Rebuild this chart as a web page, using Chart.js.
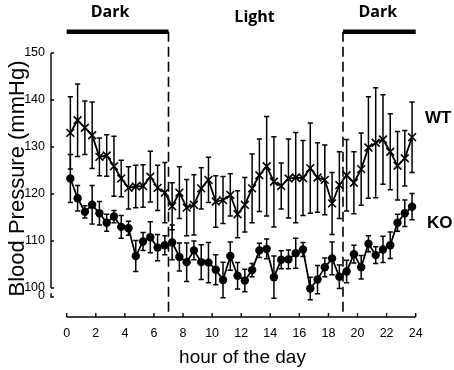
<!DOCTYPE html>
<html><head><meta charset="utf-8">
<script src="https://cdn.jsdelivr.net/npm/chart.js@4/dist/chart.umd.min.js"></script>
<style>html,body{margin:0;padding:0;background:#fff;}</style>
</head><body>
<canvas id="c" width="454" height="370" style="width:454px;height:370px;display:block"></canvas>
<script>
// ---- data ----
const hours = [0.25,0.75,1.25,1.75,2.25,2.75,3.25,3.75,4.25,4.75,5.25,5.75,6.25,6.75,7.25,7.75,
  8.25,8.75,9.25,9.75,10.25,10.75,11.25,11.75,12.25,12.75,13.25,13.75,14.25,14.75,15.25,15.75,
  16.25,16.75,17.25,17.75,18.25,18.75,19.25,19.75,20.25,20.75,21.25,21.75,22.25,22.75,23.25,23.75];
const wtMean = [133.0,135.7,134.1,132.5,127.9,128.2,125.9,123.3,121.3,121.6,121.7,123.7,121.3,120.3,117.4,120.3,
  117.1,117.7,121.2,123.0,118.4,118.7,119.8,115.7,117.7,121.2,124.0,125.9,122.6,121.7,123.3,123.5,
  123.4,125.5,123.5,123.0,118.0,121.9,124.0,122.4,125.3,129.9,130.9,131.6,129.0,126.0,127.6,132.1];
const wtErr = [7.7,7.7,5.7,7.1,4.0,4.4,6.4,3.9,4.5,4.5,4.5,5.4,4.8,6.4,5.0,5.5,
  6.0,6.4,4.4,4.8,5.5,5.0,4.5,5.0,5.8,7.3,7.7,10.6,9.6,4.9,8.4,9.6,
  8.0,9.6,7.4,7.4,6.6,7.1,7.6,6.6,7.7,10.8,11.7,9.5,8.1,7.3,5.9,7.5];
const koMean = [123.3,119.1,116.2,117.7,115.9,113.9,115.2,113.0,112.7,106.8,109.9,110.8,108.6,109.1,109.7,106.6,
  105.5,108.0,105.5,105.4,103.9,101.7,106.8,102.6,101.6,103.8,108.0,108.3,102.3,106.0,106.1,107.4,
  108.2,99.9,101.8,104.4,106.3,102.4,103.5,107.2,104.4,109.4,107.0,108.2,109.1,113.9,115.9,117.3];
const koErr = [5.1,2.7,1.3,4.1,2.5,1.8,1.3,2.4,1.5,3.3,1.9,3.3,2.8,2.0,3.7,3.0,
  4.1,2.0,3.7,4.3,3.2,3.8,3.0,2.8,2.4,1.4,1.5,2.1,4.5,1.9,2.0,3.2,
  1.5,2.4,3.0,2.0,3.5,2.5,2.4,1.9,2.5,1.7,1.8,2.8,2.8,1.8,2.8,2.8];
const xTickValues = [0,2,4,6,8,10,12,14,16,18,20,22,24];
const yTickValues = [100,110,120,130,140,150];
const yBreakValue = 98.5, yBreakLabel = '0';
const darkPeriods = [[0,7],[19,24]];
const phaseNames = ['Dark','Light','Dark'];
const seriesNames = ['WT','KO'];

const INK = '#000';
const errPlugin = {
  id:'errbars',
  beforeDatasetsDraw(chart){
    const {ctx, scales:{x,y}} = chart;
    ctx.save();
    ctx.strokeStyle = INK; ctx.lineWidth = 1.5;
    const sets = [[wtMean,wtErr],[koMean,koErr]];
    sets.forEach(([m,e])=>{
      hours.forEach((h,i)=>{
        const px = x.getPixelForValue(h);
        const t = y.getPixelForValue(m[i]+e[i]);
        const b = y.getPixelForValue(m[i]-e[i]);
        ctx.beginPath();
        ctx.moveTo(px,t); ctx.lineTo(px,b);
        ctx.moveTo(px-2.6,t); ctx.lineTo(px+2.6,t);
        ctx.moveTo(px-2.6,b); ctx.lineTo(px+2.6,b);
        ctx.stroke();
      });
    });
    ctx.restore();
  },
  afterDraw(chart){
    const {ctx, chartArea:ca, scales:{x,y}} = chart;
    ctx.save();
    ctx.strokeStyle = INK; ctx.fillStyle = INK;
    // y axis
    ctx.lineWidth = 1.4;
    ctx.beginPath();
    ctx.moveTo(ca.left, y.getPixelForValue(150)); ctx.lineTo(ca.left, y.getPixelForValue(100));
    yTickValues.forEach(v=>{ const py=y.getPixelForValue(v); ctx.moveTo(ca.left,py); ctx.lineTo(ca.left+3,py); });
    const bt = y.getPixelForValue(98.9), bb = y.getPixelForValue(98.1);
    ctx.moveTo(ca.left, bt); ctx.lineTo(ca.left, bb); ctx.lineTo(ca.left+3, bb);
    ctx.stroke();
    // x axis
    ctx.beginPath();
    ctx.moveTo(x.getPixelForValue(0), ca.bottom); ctx.lineTo(x.getPixelForValue(24), ca.bottom);
    xTickValues.forEach(v=>{ const px=x.getPixelForValue(v); ctx.moveTo(px,ca.bottom); ctx.lineTo(px,ca.bottom-4); });
    ctx.stroke();
    // dark bars & dashed boundaries
    const barY = y.getPixelForValue(154.5);
    ctx.lineWidth = 4.5; ctx.lineCap = 'butt';
    darkPeriods.forEach(([a,b])=>{
      ctx.beginPath(); ctx.moveTo(x.getPixelForValue(a),barY); ctx.lineTo(x.getPixelForValue(b),barY); ctx.stroke();
    });
    ctx.lineWidth = 1.6; ctx.setLineDash([10,5]);
    [7,19].forEach(v=>{
      const px = x.getPixelForValue(v);
      ctx.beginPath(); ctx.moveTo(px,barY); ctx.lineTo(px,ca.bottom); ctx.stroke();
    });
    ctx.setLineDash([]);
    // phase labels
    ctx.font = 'bold 16px "Open Sans", "Liberation Sans", sans-serif';
    ctx.textAlign = 'center'; ctx.textBaseline = 'alphabetic';
    ctx.fillText(phaseNames[0], x.getPixelForValue(2.98), y.getPixelForValue(157.6));
    ctx.fillText(phaseNames[1], x.getPixelForValue(12.92), y.getPixelForValue(156.66));
    ctx.fillText(phaseNames[2], x.getPixelForValue(21.39), y.getPixelForValue(157.6));
    // series labels
    ctx.font = 'bold 17px "Liberation Sans", Arial, sans-serif';
    ctx.textAlign = 'left';
    ctx.fillText(seriesNames[0], x.getPixelForValue(24.64), y.getPixelForValue(135.1));
    ctx.fillText(seriesNames[1], x.getPixelForValue(24.78), y.getPixelForValue(112.8));
    // axis titles
    ctx.font = '19px "Liberation Sans", Arial, sans-serif';
    ctx.textAlign = 'center';
    ctx.fillText('hour of the day', 242.5, 363);
    ctx.translate(24, 178.5); ctx.rotate(-Math.PI/2);
    ctx.font = '22px "Liberation Sans", Arial, sans-serif';
    ctx.fillText('Blood Pressure (mmHg)', 0, 0);
    ctx.restore();
  }
};

new Chart(document.getElementById('c'), {
  type:'line',
  data:{ datasets:[
    { label:seriesNames[0], data:hours.map((h,i)=>({x:h,y:wtMean[i]})), borderColor:INK, borderWidth:1.8,
      pointStyle:'crossRot', pointRadius:5.5, pointBorderWidth:1.6, pointBorderColor:INK, pointBackgroundColor:INK, tension:0, clip:false },
    { label:seriesNames[1], data:hours.map((h,i)=>({x:h,y:koMean[i]})), borderColor:INK, borderWidth:1.8,
      pointStyle:'circle', pointRadius:4.2, pointBorderWidth:0, pointBackgroundColor:INK, tension:0, clip:false }
  ]},
  options:{
    responsive:false, animation:false, devicePixelRatio:1,
    layout:{ padding:{ top:53, right:38.3, left:0, bottom:0 } },
    plugins:{ legend:{display:false}, tooltip:{enabled:false} },
    scales:{
      x:{ type:'linear', min:-1.08, max:24,
        afterBuildTicks(s){ s.ticks = xTickValues.map(v=>({value:v})); },
        afterFit(s){ s.height = 53; },
        grid:{display:false, drawTicks:false}, border:{display:false},
        ticks:{ font:{size:12.5, family:'"Liberation Sans", Arial, sans-serif'}, color:'#000', padding:9, maxRotation:0, autoSkip:false }
      },
      y:{ type:'linear', min:93.83, max:150,
        afterBuildTicks(s){ s.ticks = [{value:yBreakValue}].concat(yTickValues.map(v=>({value:v}))); },
        afterFit(s){ s.width = 51; },
        grid:{display:false, drawTicks:false}, border:{display:false},
        ticks:{ font:{size:12.5, family:'"Liberation Sans", Arial, sans-serif'}, color:'#000', padding:6,
          callback:(v)=> v===yBreakValue ? yBreakLabel : String(v) }
      }
    }
  },
  plugins:[errPlugin]
});
</script>
</body></html>
